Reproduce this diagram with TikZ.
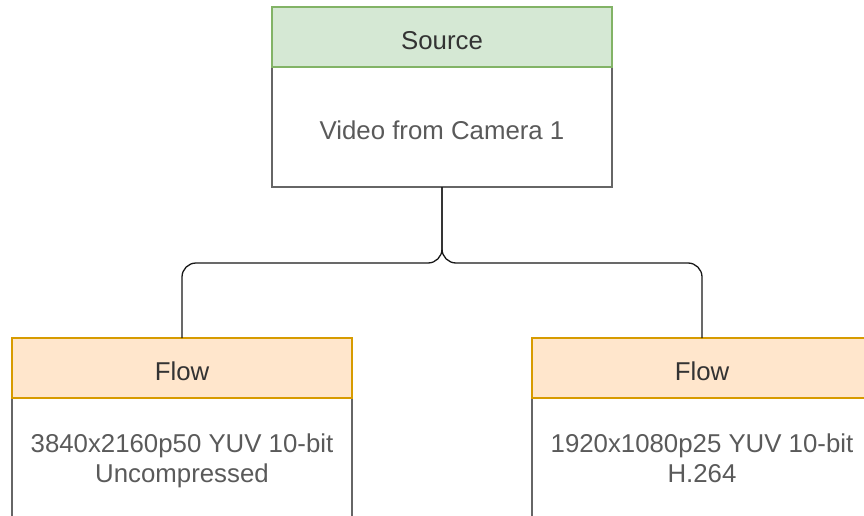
\documentclass[tikz,border=0pt]{standalone}
\usepackage{fontspec}
\setmainfont{Liberation Sans}
\usetikzlibrary{positioning}

\definecolor{srcfill}{HTML}{D5E8D4}
\definecolor{srcline}{HTML}{82B366}
\definecolor{flowfill}{HTML}{FFE6CC}
\definecolor{flowline}{HTML}{D79B00}
\definecolor{boxline}{HTML}{666666}
\definecolor{headtext}{HTML}{333333}
\definecolor{bodytext}{HTML}{5A5A5A}

\begin{document}
\begin{tikzpicture}[x=1pt, y=-1pt,
    every node/.style={font=\fontsize{25.8}{30}\selectfont, inner sep=0pt,
      outer sep=0pt, minimum width=340pt, line width=1.3pt,
      execute at begin node=\rule{0pt}{25pt}},
    headbox/.style={minimum height=60pt, text=headtext},
    srchead/.style={headbox, draw=srcline, fill=srcfill},
    flowhead/.style={headbox, draw=flowline, fill=flowfill},
    bodybox/.style={draw=boxline, fill=white, minimum height=120pt,
      text=bodytext, align=center, text depth=0pt},
    link/.style={draw=black!90, line width=1.3pt, rounded corners=14pt}]
  \clip (0,0) rectangle (864,516);
  % source
  \node[bodybox] (srcbody) at (442,127) {Video from Camera 1};
  \node[srchead, above=0pt of srcbody] (src) {Source};
  % flows
  \foreach \x/\txt [count=\n] in {
      182/{3840x2160p50 YUV 10-bit\\Uncompressed},
      702/{1920x1080p25 YUV 10-bit\\H.264}}
    {
      \node[bodybox] (flowbody\n) at (\x,458) {\txt};
      \node[flowhead, above=0pt of flowbody\n] (flow\n) {Flow};
      % connector
      \draw[link] (srcbody.south) -- ++(0,76) -| (flow\n.north);
    }
\end{tikzpicture}
\end{document}
